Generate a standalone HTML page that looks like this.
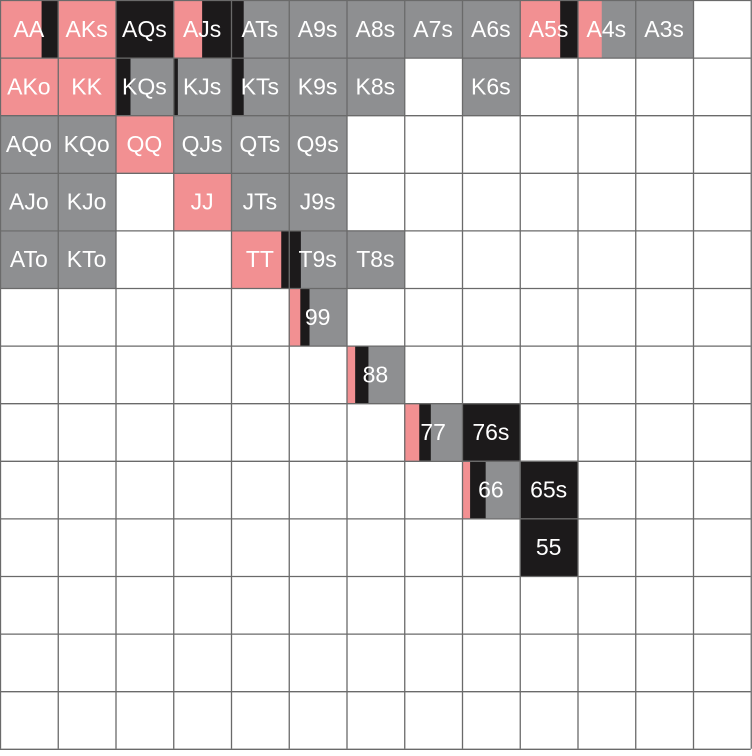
<!DOCTYPE html>
<html><head><meta charset="utf-8"><style>
html,body{margin:0;padding:0;background:#fff;}
svg{display:block;}
text{font-family:"Liberation Sans",Arial,sans-serif;font-size:23px;fill:#fff;}
</style></head><body>
<svg id="chart" width="752" height="756" viewBox="0 0 752 756"></svg>
<script>
const ranks = ["A","K","Q","J","T","9","8","7","6","5","4","3","2"];
const raiseCells = [[0,0,0.72],[0,1,1],[0,3,0.5],[0,9,0.7],[0,10,0.42],[1,0,1],[1,1,1],[2,2,1],[3,3,1],[4,4,0.87],[5,5,0.2],[6,6,0.15],[7,7,0.26],[8,8,0.14]];
const callCells = [[0,0,0.28],[0,2,1],[0,3,0.5],[0,4,0.22],[0,9,0.3],[1,2,0.26],[1,3,0.08],[1,4,0.22],[4,4,0.13],[4,5,0.21],[5,5,0.16],[6,6,0.23],[7,7,0.2],[7,8,1],[8,8,0.27],[8,9,1],[9,9,1]];
const foldCells = [[0,4,0.78],[0,5,1],[0,6,1],[0,7,1],[0,8,1],[0,10,0.58],[0,11,1],[1,2,0.74],[1,3,0.92],[1,4,0.78],[1,5,1],[1,6,1],[1,8,1],[2,0,1],[2,1,1],[2,3,1],[2,4,1],[2,5,1],[3,0,1],[3,1,1],[3,4,1],[3,5,1],[4,0,1],[4,1,1],[4,5,0.79],[4,6,1],[5,5,0.64],[6,6,0.62],[7,7,0.54],[8,8,0.59]];
const colors = {raise:"#f29092", call:"#1c1a1b", fold:"#8e8f91"};
const cw = 57.75, ch = 57.6;
const svg = document.getElementById('chart');
const NS = "http://www.w3.org/2000/svg";
function xs(c){return c*cw;}
function ys(r){return r*ch;}
function label(r,c){
  if(r===c) return ranks[r]+ranks[c];
  if(c>r) return ranks[r]+ranks[c]+"s";
  return ranks[c]+ranks[r]+"o";
}
const cells = {};
function add(list, kind){
  list.forEach(d=>{const k=d[0]+"_"+d[1]; (cells[k]=cells[k]||[]).push([kind,d[2]]);});
}
add(raiseCells,"raise"); add(callCells,"call"); add(foldCells,"fold");
const order = {raise:0,call:1,fold:2};
Object.keys(cells).forEach(k=>{
  const [r,c]=k.split("_").map(Number);
  let x = xs(c);
  cells[k].sort((a,b)=>order[a[0]]-order[b[0]]).forEach(([kind,f])=>{
    const rect=document.createElementNS(NS,"rect");
    
    
    rect.setAttribute("x",x); rect.setAttribute("y",ys(r));
    rect.setAttribute("width",f*cw+0.3); rect.setAttribute("height",ch);
    rect.setAttribute("fill",colors[kind]);
    svg.appendChild(rect);
    x += f*cw;
  });
});
for(let i=0;i<=13;i++){
  const v=document.createElementNS(NS,"line");
  
  
  v.setAttribute("x1",xs(i)+0.5);v.setAttribute("x2",xs(i)+0.5);v.setAttribute("y1",0);v.setAttribute("y2",ys(13));
  v.setAttribute("stroke","#6a6a6a");v.setAttribute("stroke-width","1.3");
  svg.appendChild(v);
  const h=document.createElementNS(NS,"line");
  
  
  h.setAttribute("y1",ys(i)+0.5);h.setAttribute("y2",ys(i)+0.5);h.setAttribute("x1",0);h.setAttribute("x2",xs(13));
  h.setAttribute("stroke","#6a6a6a");h.setAttribute("stroke-width","1.3");
  svg.appendChild(h);
}
Object.keys(cells).forEach(k=>{
  const [r,c]=k.split("_").map(Number);
  const t=document.createElementNS(NS,"text");
  
  
  t.setAttribute("x",xs(c)+cw/2);t.setAttribute("y",ys(r)+ch/2+8);
  t.setAttribute("text-anchor","middle");
  t.textContent=label(r,c);
  svg.appendChild(t);
});
</script>
</body></html>
